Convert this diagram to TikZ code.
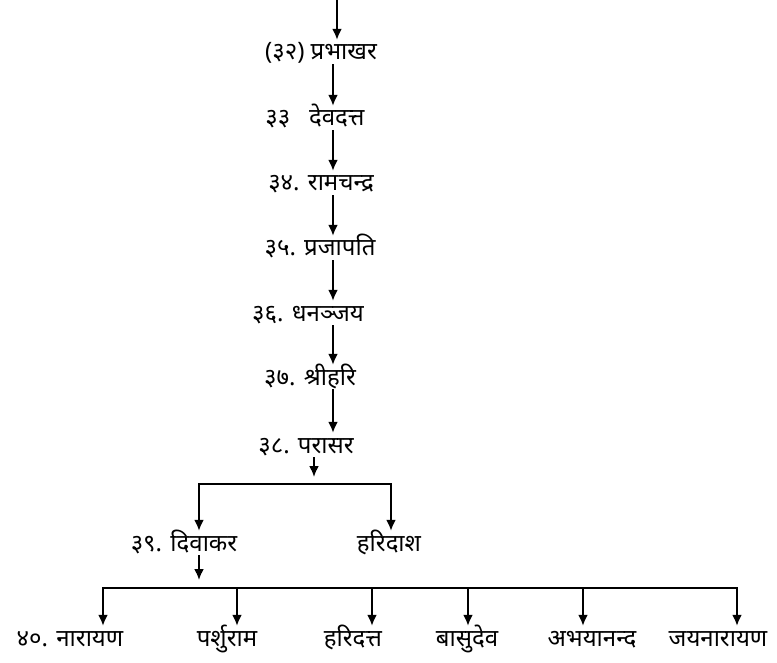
\documentclass[tikz,border=0pt]{standalone}
\usepackage{fontspec}
\newfontfamily\deva[Script=Devanagari]{Noto Sans}
\usetikzlibrary{arrows.meta}

\begin{document}
\begin{tikzpicture}[x=1pt,y=-1pt]
\tikzstyle{every node}=[font=\deva\fontsize{24}{28}\selectfont, anchor=base, inner sep=0pt, text height=20pt, text depth=4pt]
\tikzstyle{link}=[line width=2pt, -{Latex[length=11pt,width=10pt]}]
\tikzstyle{fork}=[line width=2pt, {Latex[length=11pt,width=10pt]}-{Latex[length=11pt,width=10pt]}]
\useasboundingbox (0,0) rectangle (777,663);
	% main line
	\coordinate (top) at (337,0);
	\coordinate (spine) at (333,0);
	\node (p32) at (321,60) {(३२) प्रभाखर};
	\node (p33) at (315,126) {३३~~ देवदत्त};
	\node (p34) at (321,191) {३४. रामचन्द्र};
	\node (p35) at (320,256) {३५. प्रजापति};
	\node (p36) at (308,321) {३६. धनञ्जय};
	\node (p37) at (310,385) {३७. श्रीहरि};
	\node (p38) at (306,453) {३८. परासर};
	\draw[link] (top) -- (top |- p32.north);
	\draw[link] (p32.south -| spine) -- (p33.north -| spine);
	\draw[link] (p33.south -| spine) -- (p34.north -| spine);
	\draw[link] (p34.south -| spine) -- (p35.north -| spine);
	\draw[link] (p35.south -| spine) -- (p36.north -| spine);
	\draw[link] (p36.south -| spine) -- (p37.north -| spine);
	\draw[link] (p37.south -| spine) -- (p38.north -| spine);
	% sons of parasar
	\coordinate (t38) at (314,477);
	\coordinate (l38) at (199,484);
	\coordinate (r38) at (391,484);
	\node (p39) at (184,551) {३९. दिवाकर};
	\node (hd) at (389,551) {हरिदाश};
	\draw[link] (p38.south -| t38) -- (t38);
	\draw[fork] (l38 |- p39.north) -- (l38) -- (r38) -- (r38 |- hd.north);
	% sons of divakar
	\coordinate (t39) at (199,580);
	\coordinate (b1) at (103,588);
	\coordinate (b2) at (237,588);
	\coordinate (b3) at (372,588);
	\coordinate (b4) at (468,588);
	\coordinate (b5) at (583,588);
	\coordinate (b6) at (737,588);
	\node (p40) at (70,646) {४०. नारायण};
	\node (pr) at (227,646) {पर्शुराम};
	\node (hdt) at (353,646) {हरिदत्त};
	\node (bs) at (467,646) {बासुदेव};
	\node (ab) at (592,646) {अभयानन्द};
	\node (jn) at (718,646) {जयनारायण};
	\draw[link] (p39.south -| t39) -- (t39);
	\draw[fork] (b1 |- p40.north) -- (b1) -- (b6) -- (b6 |- jn.north);
	\draw[link] (b2) -- (b2 |- pr.north);
	\draw[link] (b3) -- (b3 |- hdt.north);
	\draw[link] (b4) -- (b4 |- bs.north);
	\draw[link] (b5) -- (b5 |- ab.north);
\end{tikzpicture}
\end{document}
